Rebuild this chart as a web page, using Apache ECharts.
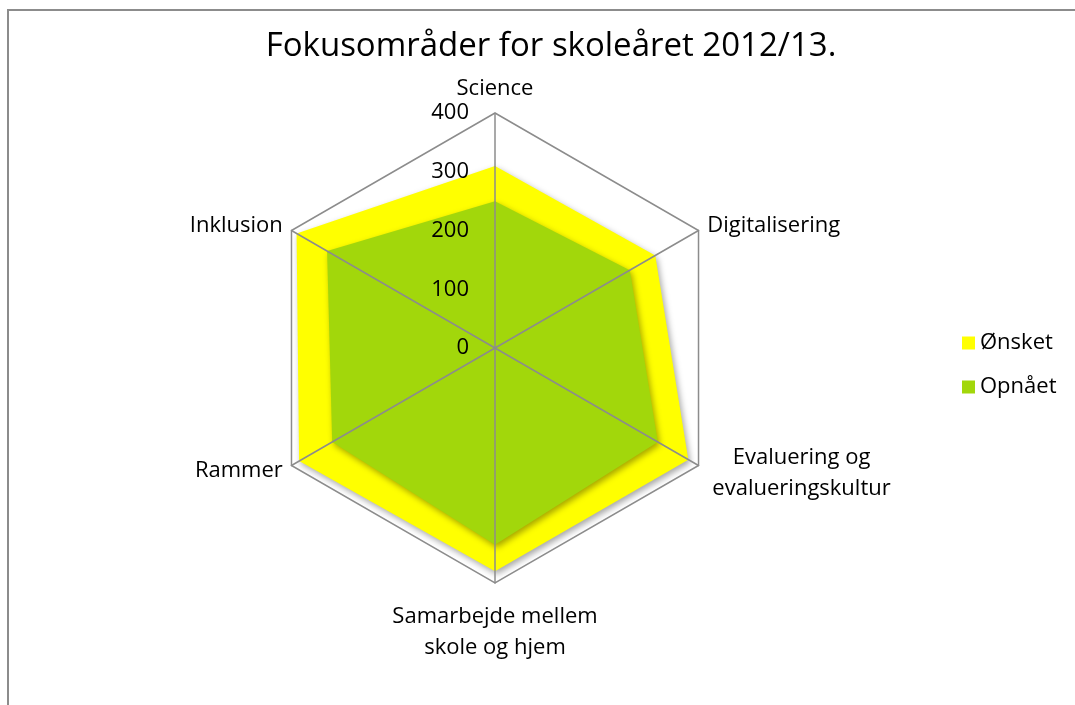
<!DOCTYPE html>
<html>
<head>
<meta charset="utf-8">
<script src="https://cdn.jsdelivr.net/npm/echarts@6/dist/echarts.min.js"></script>
<style>
  html, body { margin: 0; padding: 0; background: #fff; }
  #chart { width: 1075px; height: 705px; }
</style>
</head>
<body>
<div id="chart"></div>
<script>
// Fokusområder – radar med ønsket / opnået niveau
// rækkefølge som ECharts tegner den (mod uret fra toppen)
var areas = ['Science', 'Inklusion', 'Rammer', 'Samarbejde mellem\nskole og hjem', 'Evaluering og\nevalueringskultur', 'Digitalisering']
var wanted = [310, 390, 385, 380, 380, 315]
var achieved = [250, 330, 320, 335, 320, 265]
var seriesNames = ['Ønsket', 'Opnået']
var maxValue = 400
var nameGaps = [9, 10, 10, 18, 16, 10]

var font = 'Open Sans'
var myChart = echarts.init(document.getElementById('chart'))

var indicators = areas.map(function (name, i) {
  var ind = { name: name, max: maxValue, min: 0, nameGap: nameGaps[i] }
  if (i === 0) {
    ind.axisLabel = { show: true, color: '#000', fontSize: 22, fontFamily: font, margin: 26 }
  }
  return ind
})

var shadow = {
  shadowBlur: 6,
  shadowColor: 'rgba(0,0,0,0.35)',
  shadowOffsetX: 2,
  shadowOffsetY: 3
}

var option = {
  animation: false,
  title: {
    text: 'Fokusområder for skoleåret 2012/13.',
    left: 546,
    textAlign: 'center',
    top: 25,
    textStyle: { fontFamily: font, fontSize: 33, fontWeight: 'normal', color: '#000' }
  },
  legend: {
    orient: 'vertical',
    left: 957,
    top: 327,
    icon: 'rect',
    itemWidth: 13,
    itemHeight: 13,
    itemGap: 22,
    textStyle: { fontFamily: font, fontSize: 22, color: '#000' },
    data: seriesNames
  },
  graphic: [{
    type: 'rect',
    shape: { x: 8, y: 10, width: 1200, height: 800 },
    style: { fill: 'none', stroke: '#8c8c8c', lineWidth: 2 },
    silent: true
  }],
  radar: {
    center: [495, 348],
    radius: 235,
    startAngle: 90,
    shape: 'polygon',
    splitNumber: 4,
    z: 4,
    indicator: indicators,
    axisName: {
      color: '#000',
      fontSize: 22,
      fontFamily: font,
      formatter: function (name) {
        return name.split('\n').map(function (s) { return '{c|' + s + '}' }).join('\n')
      },
      rich: {
        c: { align: 'center', fontSize: 22, fontFamily: font, color: '#000', lineHeight: 31 }
      }
    },
    axisLine: { lineStyle: { color: '#8c8c8c', width: 1.5 } },
    axisTick: { show: false },
    splitLine: {
      lineStyle: {
        color: ['rgba(0,0,0,0)', 'rgba(0,0,0,0)', 'rgba(0,0,0,0)', 'rgba(0,0,0,0)', '#8c8c8c'],
        width: 1.5
      }
    },
    splitArea: { show: false }
  },
  series: [{
    type: 'radar',
    symbol: 'none',
    z: 1,
    data: [
      {
        name: seriesNames[0],
        value: wanted,
        itemStyle: { color: '#ffff00' },
        lineStyle: { width: 0 },
        areaStyle: Object.assign({ color: '#ffff00', opacity: 1 }, shadow)
      },
      {
        name: seriesNames[1],
        value: achieved,
        itemStyle: { color: '#a2d70b' },
        lineStyle: { width: 0 },
        areaStyle: Object.assign({ color: '#a2d70b', opacity: 1 }, shadow)
      }
    ]
  }]
}

option && myChart.setOption(option)
window.addEventListener('resize', function () { myChart.resize() })
</script>
</body>
</html>
